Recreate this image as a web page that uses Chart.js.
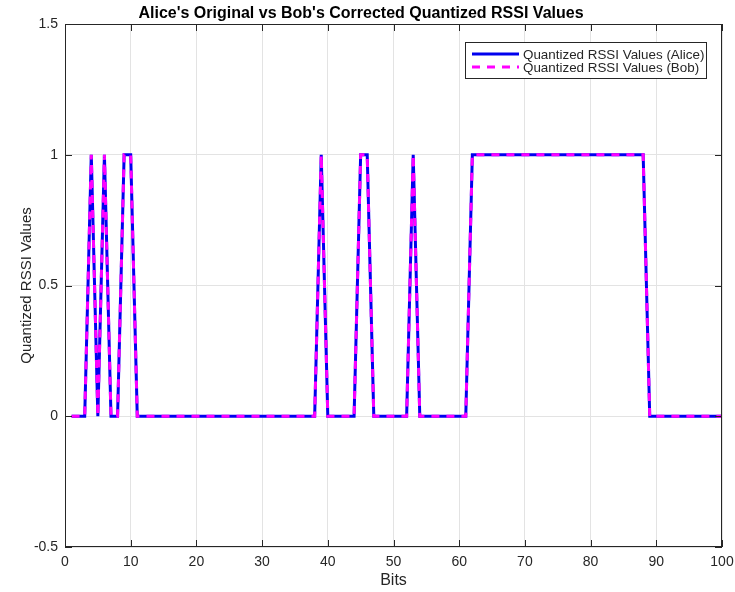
<!DOCTYPE html>
<html>
<head>
<meta charset="utf-8">
<script src="https://cdn.jsdelivr.net/npm/chart.js@4/dist/chart.umd.min.js"></script>
<style>
  body { margin: 0; background: #fff; }
  canvas { display: block; }
</style>
</head>
<body>
<canvas id="chart" width="735" height="592"></canvas>
<script>
// bit index 1..100, ones
const bits = Array.from({ length: 100 }, (_, i) => i + 1);
const aliceValues = [
  0,0,0,1,0,1,0,0,1,1, 0,0,0,0,0,0,0,0,0,0,
  0,0,0,0,0,0,0,0,0,0, 0,0,0,0,0,0,0,0,1,0,
  0,0,0,0,1,1,0,0,0,0, 0,0,1,0,0,0,0,0,0,0,
  0,1,1,1,1,1,1,1,1,1, 1,1,1,1,1,1,1,1,1,1,
  1,1,1,1,1,1,1,1,0,0, 0,0,0,0,0,0,0,0,0,0
];
const bobValues = aliceValues.slice();
const xTicks = [0, 10, 20, 30, 40, 50, 60, 70, 80, 90, 100];
const yTicks = [-0.5, 0, 0.5, 1, 1.5];

const FONT = '"Liberation Sans", Arial, Helvetica, sans-serif';
const AXIS = '#262626';
const GRID = '#e3e3e3';

// MATLAB-ish box with inward ticks + legend inside the axes
const boxPlugin = {
  id: 'box',
  afterDraw(chart) {
    const { ctx, chartArea: a, scales: { x, y } } = chart;
    ctx.save();
    ctx.strokeStyle = AXIS;
    ctx.lineWidth = 1;
    ctx.strokeRect(a.left + 0.5, a.top + 0.5, a.right - a.left - 1, a.bottom - a.top - 1);
    ctx.beginPath();
    xTicks.forEach(v => {
      const px = Math.round(x.getPixelForValue(v)) + 0.5;
      ctx.moveTo(px, a.bottom); ctx.lineTo(px, a.bottom - 7);
      ctx.moveTo(px, a.top); ctx.lineTo(px, a.top + 7);
    });
    yTicks.forEach(v => {
      const py = Math.round(y.getPixelForValue(v)) + 0.5;
      ctx.moveTo(a.left, py); ctx.lineTo(a.left + 7, py);
      ctx.moveTo(a.right, py); ctx.lineTo(a.right - 7, py);
    });
    ctx.stroke();

    // legend
    const lx = 465, ly = 42, lw = 241, lh = 36;
    ctx.fillStyle = '#fff';
    ctx.fillRect(lx, ly, lw, lh);
    ctx.strokeStyle = AXIS;
    ctx.strokeRect(lx + 0.5, ly + 0.5, lw, lh);
    ctx.font = '13.4px ' + FONT;
    ctx.textBaseline = 'middle';
    chart.data.datasets.forEach((ds, i) => {
      const cy = ly + 12 + i * 13;
      ctx.beginPath();
      ctx.strokeStyle = ds.borderColor;
      ctx.lineWidth = 3;
      ctx.setLineDash(ds.borderDash || []);
      ctx.moveTo(472, cy); ctx.lineTo(519, cy);
      ctx.stroke();
      ctx.setLineDash([]);
      ctx.fillStyle = AXIS;
      ctx.fillText(ds.label, 523, cy + 1);
    });
    ctx.restore();
  }
};

new Chart(document.getElementById('chart'), {
  type: 'line',
  data: {
    labels: bits,
    datasets: [
      {
        label: 'Quantized RSSI Values (Alice)',
        data: bits.map((b, i) => ({ x: b, y: aliceValues[i] })),
        borderColor: '#0000ee',
        borderWidth: 3,
        pointRadius: 0,
        tension: 0,
        order: 2
      },
      {
        label: 'Quantized RSSI Values (Bob)',
        data: bits.map((b, i) => ({ x: b, y: bobValues[i] })),
        borderColor: '#ff00ff',
        borderWidth: 3,
        borderDash: [8, 7],
        pointRadius: 0,
        tension: 0,
        order: 1
      }
    ]
  },
  options: {
    responsive: false,
    animation: false,
    layout: { padding: { left: 0, right: 13, top: 0, bottom: 0 } },
    plugins: {
      legend: { display: false },
      tooltip: { enabled: false },
      title: {
        display: true,
        text: "Alice's Original vs Bob's Corrected Quantized RSSI Values",
        color: '#000',
        font: { family: FONT, size: 16, weight: 'bold' },
        padding: { top: 4, bottom: 0.8 }
      }
    },
    scales: {
      x: {
        type: 'linear',
        min: 0,
        max: 100,
        afterBuildTicks: s => { s.ticks = xTicks.map(v => ({ value: v })); },
        afterFit: s => { s.height = 45; s.paddingLeft = 0; s.paddingRight = 0; },
        ticks: { color: AXIS, font: { family: FONT, size: 14 }, padding: 7, maxRotation: 0 },
        grid: { color: GRID, drawTicks: false },
        border: { display: false },
        title: {
          display: true,
          text: 'Bits',
          color: AXIS,
          font: { family: FONT, size: 16 },
          padding: { top: 0, bottom: 1.5 }
        }
      },
      y: {
        min: -0.5,
        max: 1.5,
        afterBuildTicks: s => { s.ticks = yTicks.map(v => ({ value: v })); },
        afterFit: s => { s.width = 65; s.paddingTop = 0; s.paddingBottom = 0; },
        ticks: {
          color: AXIS,
          font: { family: FONT, size: 14 },
          padding: 7,
          callback: v => String(v)
        },
        grid: { color: GRID, drawTicks: false },
        border: { display: false },
        title: {
          display: true,
          text: 'Quantized RSSI Values',
          color: AXIS,
          font: { family: FONT, size: 15 },
          padding: { top: 18, bottom: 0 }
        }
      }
    }
  },
  plugins: [boxPlugin]
});
</script>
</body>
</html>
